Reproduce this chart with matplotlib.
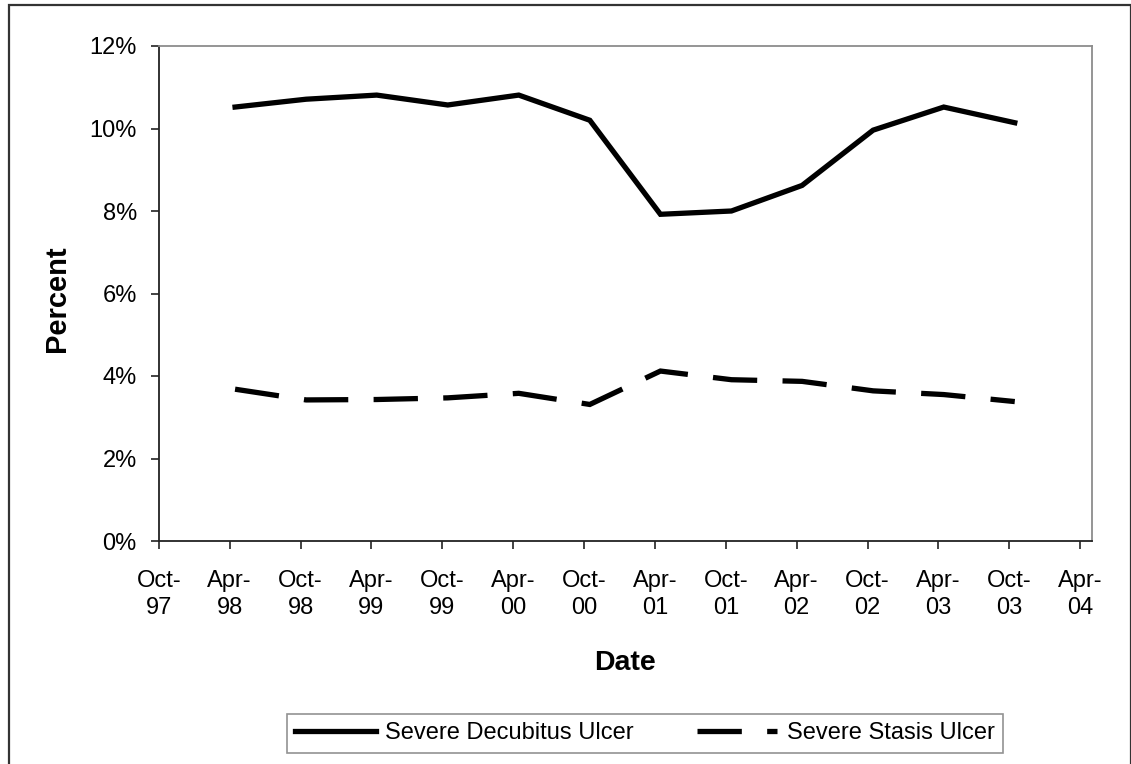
import numpy as np
import pandas as pd
import matplotlib
matplotlib.use("Agg")
import matplotlib.pyplot as plt
import matplotlib.dates as mdates
from matplotlib.patches import Rectangle
from matplotlib.ticker import PercentFormatter

plt.rcParams['font.family'] = ['Liberation Sans', 'DejaVu Sans']

# survey dates (mid-month) and the two ulcer rates, in percent
survey_dates = ["1998-04-15", "1998-10-15", "1999-04-15", "1999-10-15",
                "2000-04-15", "2000-10-15", "2001-04-15", "2001-10-15",
                "2002-04-15", "2002-10-15", "2003-04-15", "2003-10-15"]
decubitus = [10.52, 10.71, 10.81, 10.57, 10.81, 10.20,
             7.92, 8.00, 8.62, 9.96, 10.52, 10.14]
stasis = [3.68, 3.42, 3.43, 3.47, 3.58, 3.31,
          4.12, 3.91, 3.87, 3.64, 3.55, 3.38]
series_names = ["Severe Decubitus Ulcer", "Severe Stasis Ulcer"]

dates = pd.to_datetime(survey_dates)

fig = plt.figure(figsize=(11.31, 7.64), dpi=100)
ax = fig.add_axes([159 / 1131, 1 - 541 / 764, 933 / 1131, 495 / 764])

ax.plot(dates, decubitus, color="black", lw=3.8, solid_joinstyle="miter",
        label=series_names[0])
ax.plot(dates, stasis, color="black", lw=3.8, linestyle=(0, (8.4, 4.8)),
        dash_joinstyle="miter", dash_capstyle="butt", label=series_names[1])

# date axis: ticks every six months, Oct-97 .. Apr-04
ax.set_xlim(pd.Timestamp("1997-10-01"), pd.Timestamp("2004-05-01"))
ax.xaxis.set_major_locator(mdates.MonthLocator(bymonth=(4, 10)))
ax.xaxis.set_major_formatter(mdates.DateFormatter("%b-\n%y"))
ax.set_ylim(0, 12)
ax.set_yticks(np.arange(0, 13, 2))
ax.yaxis.set_major_formatter(PercentFormatter(decimals=0))

ax.tick_params(axis="both", direction="out", length=6, width=1.2,
               color="#222222", labelsize=17)
ax.tick_params(axis="x", pad=15)
ax.tick_params(axis="y", pad=10)
for lbl in ax.get_xticklabels():
    lbl.set_linespacing(1.3)

for side in ["left", "bottom"]:
    ax.spines[side].set_color("#222222")
    ax.spines[side].set_linewidth(1.3)
for side in ["top", "right"]:
    ax.spines[side].set_color("#8c8c8c")
    ax.spines[side].set_linewidth(1.3)

ax.set_xlabel("Date", fontsize=20.5, fontweight="bold")
ax.xaxis.label.set_va("center")
ax.xaxis.set_label_coords(0.5, (541 - 663) / 495)
ax.set_ylabel("Percent", fontsize=21, fontweight="bold")
ax.yaxis.label.set_va("center")
ax.yaxis.set_label_coords((57 - 159) / 933, 0.49)

leg = fig.legend(loc="upper left", ncol=2, mode="expand",
                 bbox_to_anchor=(287 / 1131, 1 - 761 / 764, 716 / 1131, 47 / 764),
                 fontsize=17, frameon=True, fancybox=False, handlelength=3.4,
                 handletextpad=0.4, borderpad=0.35, borderaxespad=0,
                 columnspacing=1.0)
leg.get_frame().set_edgecolor("#777777")
leg.get_frame().set_linewidth(1.2)

# outer frame around the whole chart area
fig.patches.append(Rectangle((9 / 1131, -0.05), 1121.5 / 1131, 1.05 - 5.5 / 764,
                             transform=fig.transFigure, fill=False,
                             edgecolor="#333333", lw=1.6))

fig.savefig("out.png", dpi=100)
